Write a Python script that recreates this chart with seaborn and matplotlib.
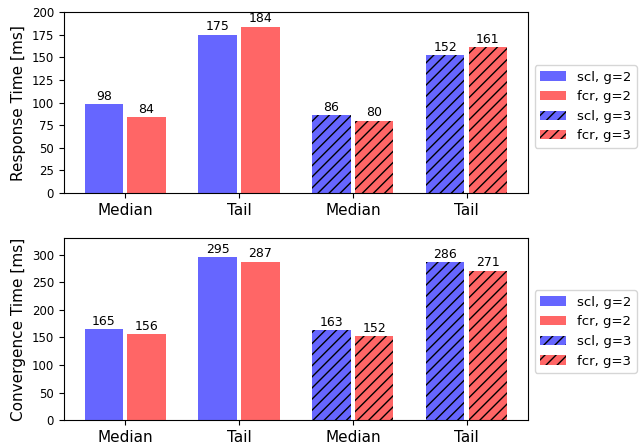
import matplotlib
matplotlib.use("Agg")
import matplotlib.pyplot as plt
import matplotlib.patches as mpatches
import numpy as np
import pandas as pd
import seaborn as sns

# Category labels and measured values (ms)
groups = ["Median", "Tail", "Median", "Tail"]
group_gvalue = [2, 2, 3, 3]
methods = ["scl", "fcr"]

response_scl = [98, 175, 86, 152]
response_fcr = [84, 184, 80, 161]
convergence_scl = [165, 295, 163, 286]
convergence_fcr = [156, 287, 152, 271]

colors = {"scl": "#6666ff", "fcr": "#ff6666"}
hatch_pattern = "///"

plt.rcParams["hatch.color"] = "black"
plt.rcParams["hatch.linewidth"] = 1.0


def frame(scl_vals, fcr_vals):
    rows = []
    for i in range(len(groups)):
        rows.append({"pos": i, "method": "scl", "value": scl_vals[i]})
        rows.append({"pos": i, "method": "fcr", "value": fcr_vals[i]})
    return pd.DataFrame(rows)


def draw(ax, scl_vals, fcr_vals, ylabel, ylim, yticks, legend_y):
    df = frame(scl_vals, fcr_vals)
    sns.barplot(data=df, x="pos", y="value", hue="method", hue_order=methods,
                palette=[colors[m] for m in methods], saturation=1,
                width=0.75, gap=0.1, errorbar=None, legend=False, ax=ax)
    for container in ax.containers:
        for i, bar in enumerate(container):
            bar.set_edgecolor("black")
            bar.set_linewidth(0)
            if group_gvalue[i] == 3:
                bar.set_hatch(hatch_pattern)
        ax.bar_label(container, fmt="%d", padding=1, fontsize=9)
    ax.set_xticks(range(len(groups)))
    ax.set_xticklabels(groups, fontsize=11)
    ax.set_xlim(-0.54, 3.54)
    ax.set_xlabel("")
    ax.set_ylabel(ylabel, fontsize=11)
    ax.set_ylim(*ylim)
    ax.set_yticks(yticks)
    ax.tick_params(axis="y", labelsize=8.5)
    for s in ax.spines.values():
        s.set_visible(True)
        s.set_color("black")
        s.set_linewidth(0.8)

    handles = []
    labels = []
    for g in (2, 3):
        for m in methods:
            handles.append(mpatches.Patch(facecolor=colors[m], edgecolor="black",
                                          linewidth=0,
                                          hatch=hatch_pattern if g == 3 else None))
            labels.append(f"{m}, g={g}")
    ax.legend(handles, labels, loc="center left", bbox_to_anchor=(1.0, legend_y),
              fontsize=9.5)


fig = plt.figure(figsize=(6.44, 4.45), dpi=100)
ax_top = fig.add_axes([0.099, 0.566, 0.721, 0.407])
ax_bot = fig.add_axes([0.099, 0.056, 0.721, 0.409])

draw(ax_top, response_scl, response_fcr, "Response Time [ms]", (0, 200),
     np.arange(0, 201, 25), 0.478)
draw(ax_bot, convergence_scl, convergence_fcr, "Convergence Time [ms]", (0, 330),
     np.arange(0, 301, 50), 0.486)

fig.savefig("out.png", dpi=100)
